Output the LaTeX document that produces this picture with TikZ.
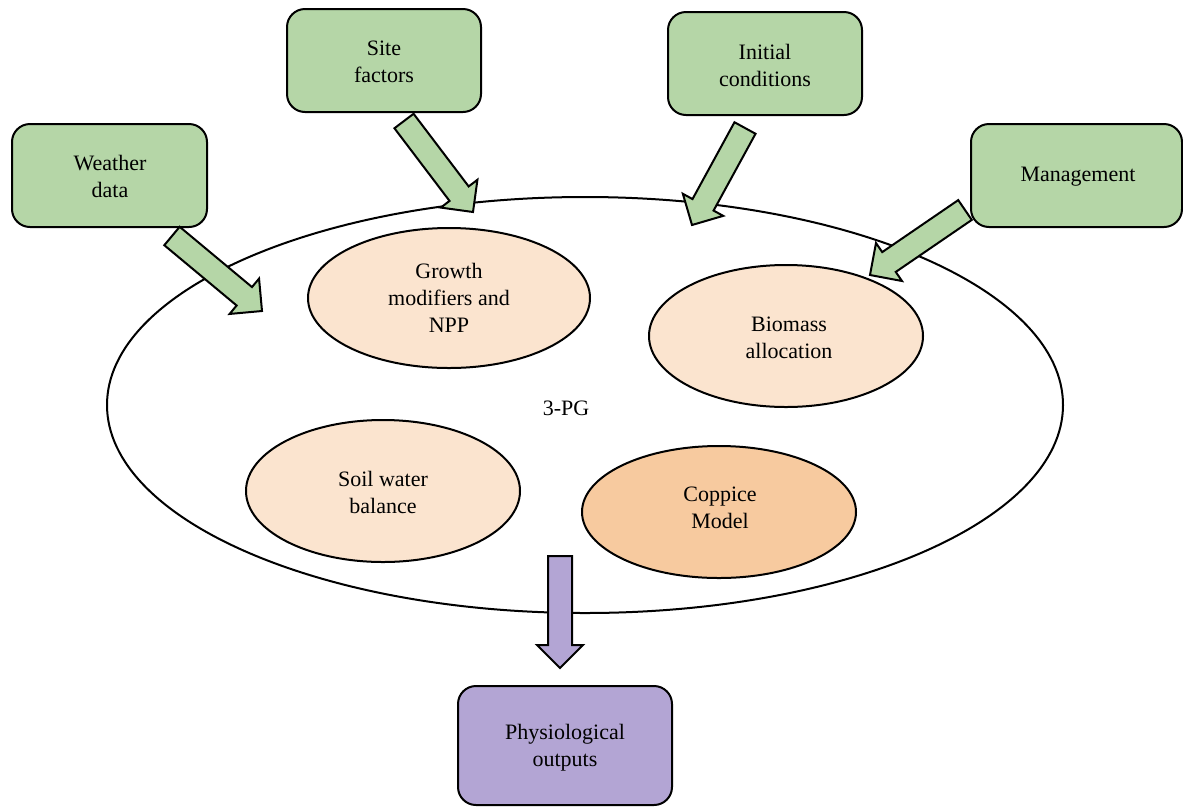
\documentclass[tikz,border=0pt]{standalone}
\usepackage{fontspec}
\setmainfont{Liberation Serif}
\usetikzlibrary{calc}
\definecolor{boxgreen}{HTML}{B5D6A7}
\definecolor{peach}{HTML}{FBE4CF}
\definecolor{coppice}{HTML}{F7CA9F}
\definecolor{lilac}{HTML}{B3A5D4}
\tikzset{
  inbox/.style={draw=black, line width=2pt, rounded corners=18pt, fill=boxgreen, align=center, inner sep=0pt},
  subell/.style={draw=black, line width=2pt, ellipse, fill=peach, align=center, inner sep=0pt},
  blk/.style={draw=black, line width=2pt, line join=miter},
  lbl/.style={font=\fontsize{22pt}{27pt}\selectfont, align=center}
}
\newcommand{\blkarrow}[3]{%
  \coordinate (bh) at ($(#2)!23pt!(#1)$);
  \filldraw[blk, fill=#3] ($(#1)!12pt!90:(#2)$) -- ($(bh)!12pt!90:(#2)$) -- ($(bh)!23pt!90:(#2)$) -- (#2) -- ($(bh)!23pt!-90:(#2)$) -- ($(bh)!12pt!-90:(#2)$) -- ($(#1)!12pt!-90:(#2)$) -- cycle;}
\begin{document}
\begin{tikzpicture}[x=1pt,y=-1pt]
\useasboundingbox (0,0) rectangle (1183,807);
% big ellipse
\draw[line width=2pt, fill=white] (585,405) ellipse [x radius=478, y radius=208];
\node[lbl] (pg) at (566,408) {3-PG};
% inner ellipses
\draw[line width=2pt, fill=peach] (449,298) ellipse [x radius=141, y radius=70];
\node[lbl] (growth) at (449,298) {Growth\\modifiers and\\NPP};
\draw[line width=2pt, fill=peach] (786,336) ellipse [x radius=137, y radius=71];
\node[lbl] (biomass) at (789,338) {Biomass\\allocation};
\draw[line width=2pt, fill=peach] (383,491) ellipse [x radius=137, y radius=71];
\node[lbl] (soil) at (383,492) {Soil water\\balance};
\draw[line width=2pt, fill=coppice] (719,512) ellipse [x radius=137, y radius=66];
\node[lbl] (copp) at (720,508) {Coppice\\Model};
% input boxes
\filldraw[inbox] (12,124) rectangle (207,227);
\node[lbl] (weather) at (110,176) {Weather\\data};
\filldraw[inbox] (287,9) rectangle (481,112);
\node[lbl] (site) at (384,62) {Site\\factors};
\filldraw[inbox] (668,12) rectangle (862,115);
\node[lbl] (init) at (765,65) {Initial\\conditions};
\filldraw[inbox] (971,124) rectangle (1182,227);
\node[lbl] (mgmt) at (1078,177) {Management};
% output box
\filldraw[inbox, fill=lilac] (458,686) rectangle (672,805);
\node[lbl] (out) at (565,748) {Physiological\\outputs};
% block arrows
\coordinate (wt) at (172,236); \coordinate (wp) at (262,311);
\coordinate (st) at (404,121); \coordinate (sp) at (473,212);
\coordinate (it) at (745,128); \coordinate (ip) at (692,225);
\coordinate (mt) at (965,210); \coordinate (mp) at (870,275);
\coordinate (ot) at (560,556); \coordinate (op) at (560,668);
\blkarrow{wt}{wp}{boxgreen}
\blkarrow{st}{sp}{boxgreen}
\blkarrow{it}{ip}{boxgreen}
\blkarrow{mt}{mp}{boxgreen}
\blkarrow{ot}{op}{lilac}
\end{tikzpicture}
\end{document}
